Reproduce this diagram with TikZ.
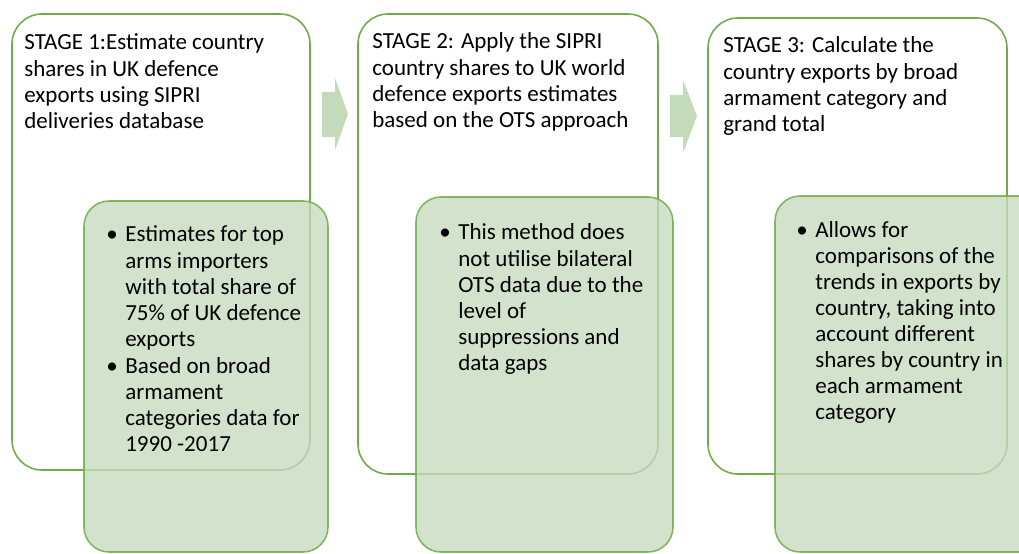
\documentclass[tikz,border=0pt]{standalone}
\usepackage{fontspec}
\setmainfont{Carlito}
\definecolor{stage_green}{rgb}{0.439, 0.678, 0.278}
\definecolor{note_green}{rgb}{0.78, 0.855, 0.75}
\definecolor{arrow_green}{rgb}{0.77, 0.86, 0.73}

\begin{document}
\begin{tikzpicture}[x=0.02cm, y=-0.02cm,
    stage/.style={draw=stage_green, line width=0.9pt, fill=white, rounded corners=0.6cm},
    note/.style={draw=stage_green, draw opacity=0.85, line width=0.9pt, fill=note_green, fill opacity=0.78, rounded corners=0.5cm},
    txt/.style={anchor=base west, inner sep=0pt, font=\fontsize{13.1}{14.8}\selectfont}]

    % Canvas: one px of the slide crop is 0.02cm
    \useasboundingbox (0,0) rectangle (1019,554);

    % Stage 1
    \draw[stage] (12,14) rectangle (310,470);
    \node[txt] (title1) at (24,50) {\begin{tabular}[t]{@{}l@{}}
      STAGE 1:Estimate country\\ shares in UK defence\\ exports using SIPRI\\ deliveries database
    \end{tabular}};
    \draw[note] (84,201) rectangle (328,552);
    \node[txt] (notes1) at (106,242) {\begin{tabular}[t]{@{}p{10.8pt}@{}l@{}}
      \textbullet & Estimates for top\\ & arms importers\\ & with total share of\\ & 75\% of UK defence\\ & exports\\[1pt]
      \textbullet & Based on broad\\ & armament\\ & categories data for\\ & 1990 -2017
    \end{tabular}};

    % Arrow 1 -> 2
    \fill[arrow_green] (322,92) -- (335,92) -- (335,78) -- (348,114) -- (335,150) -- (335,137) -- (322,137) -- cycle;

    % Stage 2
    \draw[stage] (358,14) rectangle (658,474);
    \node[txt] (title2) at (372,49) {\begin{tabular}[t]{@{}l@{}}
      STAGE 2: Apply the SIPRI\\ country shares to UK world\\ defence exports estimates\\ based on the OTS approach
    \end{tabular}};
    \draw[note] (416,197) rectangle (673,552);
    \node[txt] (notes2) at (439,240) {\begin{tabular}[t]{@{}p{10.8pt}@{}l@{}}
      \textbullet & This method does\\ & not utilise bilateral\\ & OTS data due to the\\ & level of\\ & suppressions and\\ & data gaps
    \end{tabular}};

    % Arrow 2 -> 3
    \fill[arrow_green] (670,95) -- (683,95) -- (683,80) -- (697,116) -- (683,153) -- (683,137) -- (670,137) -- cycle;

    % Stage 3
    \draw[stage] (708,18) rectangle (1007,474);
    \node[txt] (title3) at (723,53) {\begin{tabular}[t]{@{}l@{}}
      STAGE 3: Calculate the\\ country exports by broad\\ armament category and\\ grand total
    \end{tabular}};
    \draw[note] (775,196) rectangle (1045,552);
    \node[txt] (notes3) at (796,237) {\begin{tabular}[t]{@{}p{10.8pt}@{}l@{}}
      \textbullet & Allows for\\ & comparisons of the\\ & trends in exports by\\ & country, taking into\\ & account different\\ & shares by country in\\ & each armament\\ & category
    \end{tabular}};

\end{tikzpicture}
\end{document}
